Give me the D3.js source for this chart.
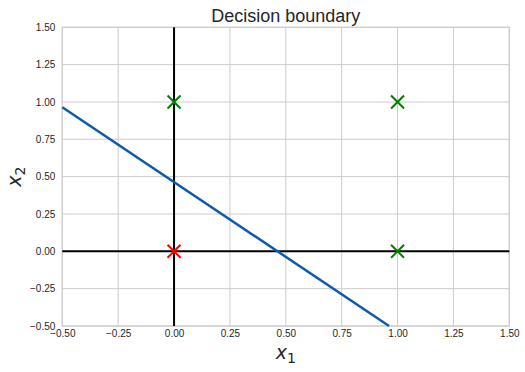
<!DOCTYPE html>
<html><head><meta charset="utf-8">
<script src="https://cdn.jsdelivr.net/npm/d3@7"></script>
<style>body{margin:0;background:#fff}svg{display:block}</style>
</head><body>
<svg id="c" width="525" height="372"></svg>
<script>
const xTicks = [-0.5,-0.25,0,0.25,0.5,0.75,1,1.25,1.5];
const yTicks = [-0.5,-0.25,0,0.25,0.5,0.75,1,1.25,1.5];
const pointsX = [0, 0, 1, 1];
const pointsY = [0, 1, 0, 1];
const pointColors = ["#ff0000", "#008000", "#008000", "#008000"];
const boundaryX = [-0.5, 0.962];
const boundaryY = [0.965, -0.5];

const svg = d3.select("#c");
const L = 62.3, R = 509.3, T = 27.3, B = 326;
const x = d3.scaleLinear().domain([-0.5,1.5]).range([L,R]);
const y = d3.scaleLinear().domain([-0.5,1.5]).range([B,T]);
const fmt = v => d3.format(".2f")(v).replace("-", "\u2212");
const sans = "'Liberation Sans', Arial, sans-serif";

// grid
svg.append("g").selectAll("line").data(xTicks).join("line")
  .attr("x1",d=>x(d)).attr("x2",d=>x(d)).attr("y1",T).attr("y2",B)
  .attr("stroke","#cccccc").attr("stroke-width",1);
svg.append("g").selectAll("line").data(yTicks).join("line")
  .attr("y1",d=>y(d)).attr("y2",d=>y(d)).attr("x1",L).attr("x2",R)
  .attr("stroke","#cccccc").attr("stroke-width",1);
svg.append("rect").attr("x",L).attr("y",T).attr("width",R-L).attr("height",B-T)
  .attr("fill","none").attr("stroke","#cccccc").attr("stroke-width",1.2);

const ax = svg.append("g").attr("transform",`translate(0,${B})`)
  .call(d3.axisBottom(x).tickValues(xTicks).tickSize(0).tickPadding(4).tickFormat(fmt));
const ay = svg.append("g").attr("transform",`translate(${L},0)`)
  .call(d3.axisLeft(y).tickValues(yTicks).tickSize(0).tickPadding(7).tickFormat(fmt));
[ax,ay].forEach(a=>{
  a.select(".domain").remove();
  a.selectAll("text").attr("fill","#262626").style("font-family",sans).style("font-size","10px");
});

svg.append("line").attr("x1",L).attr("x2",R).attr("y1",y(0)).attr("y2",y(0))
  .attr("stroke","#000").attr("stroke-width",2);
svg.append("line").attr("x1",x(0)).attr("x2",x(0)).attr("y1",T).attr("y2",B)
  .attr("stroke","#000").attr("stroke-width",2);

const lineData = boundaryX.map((d,i)=>[d,boundaryY[i]]);
svg.append("path").datum(lineData)
  .attr("d", d3.line().x(d=>x(d[0])).y(d=>y(d[1])))
  .attr("fill","none").attr("stroke","#0f5aa6").attr("stroke-width",2.5);

const s = 6.5;
const pts = pointsX.map((d,i)=>({x:d,y:pointsY[i],c:pointColors[i]}));
const g = svg.append("g").selectAll("g").data(pts).join("g")
  .attr("transform",d=>`translate(${x(d.x)},${y(d.y)})`);
g.append("path").attr("d",`M${-s},${-s}L${s},${s}M${-s},${s}L${s},${-s}`)
  .attr("stroke",d=>d.c).attr("stroke-width",2).attr("fill","none");

svg.append("text").attr("x",(L+R)/2).attr("y",22).attr("text-anchor","middle")
  .style("font-family",sans).style("font-size","18px").attr("fill","#262626")
  .text("Decision boundary");
const xl = svg.append("text").attr("x",(L+R)/2).attr("y",359).attr("text-anchor","middle")
  .style("font-family","'DejaVu Sans', sans-serif").style("font-size","19px").attr("fill","#262626");
xl.append("tspan").style("font-style","oblique").text("x");
xl.append("tspan").attr("dy",4).style("font-size","14px").text("1");
const yl = svg.append("text").attr("transform",`translate(21,${(T+B)/2}) rotate(-90)`).attr("text-anchor","middle")
  .style("font-family","'DejaVu Sans', sans-serif").style("font-size","19px").attr("fill","#262626");
yl.append("tspan").style("font-style","oblique").text("x");
yl.append("tspan").attr("dy",4).style("font-size","14px").text("2");
</script>
</body></html>
